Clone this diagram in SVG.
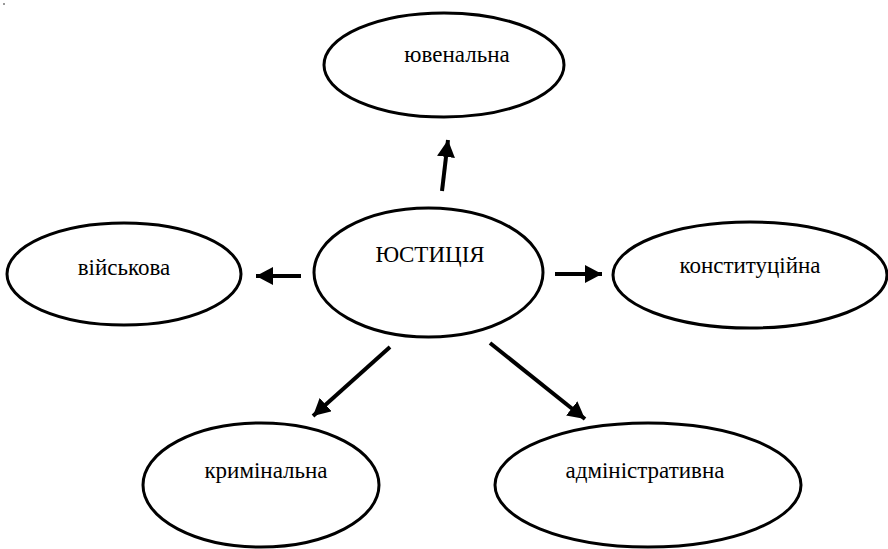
<svg xmlns="http://www.w3.org/2000/svg" width="888" height="549" viewBox="0 0 888 549">
<style>
.n ellipse{fill:#fff;stroke:#000;stroke-width:3}
.n text{font-family:'Liberation Serif','Times New Roman',serif;font-size:23px;fill:#000;text-anchor:middle}
.c line{stroke:#000;stroke-width:4;marker-end:url(#ah)}
</style>
<defs>
<marker id="ah" markerUnits="userSpaceOnUse" markerWidth="20" markerHeight="18" refX="17" refY="9" orient="auto">
<path d="M0,0 L17,9 L0,18 Z" fill="#000"/>
</marker>
</defs>
<rect x="3" y="3" width="2" height="2" fill="#999"/>
<g id="n-center" class="n"><ellipse cx="428.5" cy="272.5" rx="114.5" ry="64.5"/><text x="430" y="262">ЮСТИЦІЯ</text></g>
<g id="n-top" class="n"><ellipse cx="444" cy="65" rx="120" ry="52"/><text x="457" y="62">ювенальна</text></g>
<g id="n-left" class="n"><ellipse cx="124" cy="274" rx="117" ry="51"/><text x="124" y="275">військова</text></g>
<g id="n-right" class="n"><ellipse cx="750" cy="275" rx="137" ry="53"/><text x="750" y="273">конституційна</text></g>
<g id="n-bl" class="n"><ellipse cx="261" cy="485" rx="118" ry="62"/><text x="266" y="478">кримінальна</text></g>
<g id="n-br" class="n"><ellipse cx="648" cy="485" rx="153" ry="62"/><text x="645" y="478">адміністративна</text></g>
<g id="connectors" class="c">
<line x1="442" y1="191" x2="448" y2="140"/>
<line x1="301" y1="276" x2="256" y2="276"/>
<line x1="555" y1="274" x2="602" y2="274"/>
<line x1="390" y1="347" x2="313" y2="416"/>
<line x1="490" y1="343" x2="585" y2="419"/>
</g>
</svg>
